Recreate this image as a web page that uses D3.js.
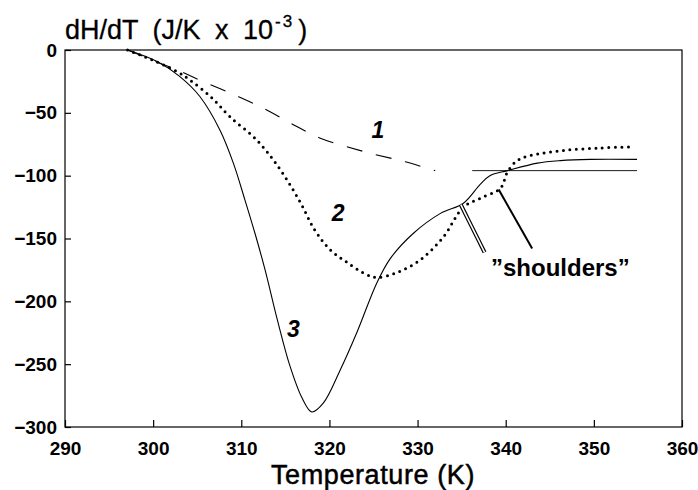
<!DOCTYPE html>
<html>
<head>
<meta charset="utf-8">
<script src="https://cdn.jsdelivr.net/npm/d3@7"></script>
<style>
  html, body { margin: 0; padding: 0; background: #fff; }
  svg { display: block; }
  text { font-family: "Liberation Sans", Arial, sans-serif; fill: #000; }
</style>
</head>
<body>
<svg id="chart" width="698" height="490"></svg>
<script>
// ---- data ----
const xTicks = [290, 300, 310, 320, 330, 340, 350, 360];
const yTicks = [0, -50, -100, -150, -200, -250, -300];

// curve 1 (dashed)
const curve1T = [297.1, 300.4, 302.8, 305.3, 309.3, 312.7, 315.8, 318.9, 324.0, 328.6, 332.0];
const curve1V = [0, -9.5, -16, -24, -36, -47, -59, -70, -81, -89, -96];
// curve 1 plateau (thin line)
const plateau1T = [336.2, 354.9];
const plateau1V = [-96, -96];

// curve 2 (dotted)
const curve2T = [297.1, 300.4, 302.8, 304.2, 306.5, 308.7, 311.8, 314.4, 316.6, 318.4, 320.1, 322.0, 324.3, 325.5, 327.7, 330.3, 332.9, 335.2, 337.1, 339.4, 340.2, 341.3, 342.8, 346.5, 350.7, 354.5];
const curve2V = [0, -9.5, -17.5, -24, -37, -53, -72, -95, -120, -144, -159, -169, -179, -181, -177, -167, -149, -125, -118, -110, -97, -88, -84, -80, -78, -77];

// curve 3 (solid)
const curve3T = [297.1, 300.4, 303.0, 305.3, 307.6, 309.1, 310.4, 311.6, 312.7, 314.1, 315.5, 316.9, 318.0, 319.3, 321.2, 323.1, 325.4, 326.9, 329.5, 332.6, 335.2, 337.1, 338.2, 340.2, 343.6, 346.2, 349.6, 354.9];
const curve3V = [0, -9, -21, -37, -64, -90, -119, -147, -175, -215, -251, -277, -288, -281, -255, -225, -185, -166, -146, -130, -122, -107, -100, -96, -90, -88, -87, -87];

// curve labels
const labelNames = ["1", "2", "3"];
const labelT = [325.5, 321.0, 315.9];
const labelV = [-70, -136, -228];

// ---- drawing ----
const svg = d3.select("#chart");
const x = d3.scaleLinear().domain([290, 360]).range([65, 682]);
const y = d3.scaleLinear().domain([-300, 0]).range([427, 50]);

const zip = (a, b) => a.map((t, i) => [t, b[i]]);
const line = d3.line().x(d => x(d[0])).y(d => y(d[1])).curve(d3.curveCatmullRom.alpha(0.5));

// frame
svg.append("rect")
  .attr("x", x(290)).attr("y", y(0))
  .attr("width", x(360) - x(290)).attr("height", y(-300) - y(0))
  .attr("fill", "none").attr("stroke", "#000").attr("stroke-width", 1.2);

// axes with inward ticks
const xAxis = d3.axisBottom(x).tickValues(xTicks).tickSize(-7).tickFormat(d3.format("d")).tickPadding(15);
const gx = svg.append("g").attr("transform", `translate(0,${y(-300)})`).call(xAxis);
gx.select(".domain").remove();
gx.selectAll("line").attr("stroke", "#000").attr("stroke-width", 1.2);
gx.selectAll("text").attr("font-size", 19).attr("font-weight", "bold")
  .attr("font-family", "'Liberation Sans', Arial, sans-serif").attr("fill", "#000");

const yAxis = d3.axisLeft(y).tickValues(yTicks).tickSize(-6).tickFormat(d3.format("d")).tickPadding(8);
const gy = svg.append("g").attr("transform", `translate(${x(290)},0)`).call(yAxis);
gy.select(".domain").remove();
gy.selectAll("line").attr("stroke", "#000").attr("stroke-width", 1.2);
gy.selectAll("text").attr("font-size", 19).attr("font-weight", "bold")
  .attr("font-family", "'Liberation Sans', Arial, sans-serif").attr("fill", "#000");

// curves
svg.append("path").datum(zip(curve1T, curve1V)).attr("d", line)
  .attr("fill", "none").attr("stroke", "#000").attr("stroke-width", 1.1)
  .attr("stroke-dasharray", "16,14");
svg.append("path").datum(zip(plateau1T, plateau1V)).attr("d", line)
  .attr("fill", "none").attr("stroke", "#000").attr("stroke-width", 0.9);
svg.append("path").datum(zip(curve3T, curve3V)).attr("d", line)
  .attr("fill", "none").attr("stroke", "#000").attr("stroke-width", 1.1);
svg.append("path").datum(zip(curve2T, curve2V)).attr("d", line)
  .attr("fill", "none").attr("stroke", "#000").attr("stroke-width", 3)
  .attr("stroke-linecap", "round").attr("stroke-dasharray", "0,6.5");

// curve labels
svg.selectAll(".clab").data(labelNames).enter().append("text")
  .attr("class", "clab")
  .attr("x", (d, i) => x(labelT[i])).attr("y", (d, i) => y(labelV[i]))
  .attr("text-anchor", "middle")
  .attr("font-size", 23).attr("font-weight", "bold").attr("font-style", "italic")
  .text(d => d);

// shoulders annotation
const arrow1 = [[337.6, -161], [334.9, -123]];
const arrow2 = [[343.0, -158], [339.2, -111]];
svg.append("line")
  .attr("x1", x(arrow1[0][0])).attr("y1", y(arrow1[0][1]))
  .attr("x2", x(arrow1[1][0])).attr("y2", y(arrow1[1][1]))
  .attr("stroke", "#000").attr("stroke-width", 4);
svg.append("line")
  .attr("x1", x(arrow1[0][0])).attr("y1", y(arrow1[0][1]))
  .attr("x2", x(arrow1[1][0])).attr("y2", y(arrow1[1][1]))
  .attr("stroke", "#fff").attr("stroke-width", 1.6);
svg.append("line")
  .attr("x1", x(arrow2[0][0])).attr("y1", y(arrow2[0][1]))
  .attr("x2", x(arrow2[1][0])).attr("y2", y(arrow2[1][1]))
  .attr("stroke", "#000").attr("stroke-width", 2);

svg.append("text")
  .attr("x", 491).attr("y", 276)
  .attr("font-size", 24).attr("font-weight", "bold")
  .text("\u201Dshoulders\u201D");

// y axis title
const yt = svg.append("text").attr("x", 65).attr("y", 39).attr("font-size", 27)
  .attr("word-spacing", 7).attr("stroke", "#000").attr("stroke-width", 0.3);
yt.append("tspan").text("dH/dT (J/K x 10");
yt.append("tspan").attr("font-size", 17).attr("dy", -12).attr("dx", 2)
  .attr("letter-spacing", 2).text("-3");
yt.append("tspan").attr("dy", 12).attr("dx", 4).text(")");

// x axis title
svg.append("text")
  .attr("x", 373).attr("y", 484)
  .attr("text-anchor", "middle").attr("font-size", 27)
  .attr("letter-spacing", 0.6)
  .attr("stroke", "#000").attr("stroke-width", 0.5)
  .text("Temperature (K)");
</script>
</body>
</html>
